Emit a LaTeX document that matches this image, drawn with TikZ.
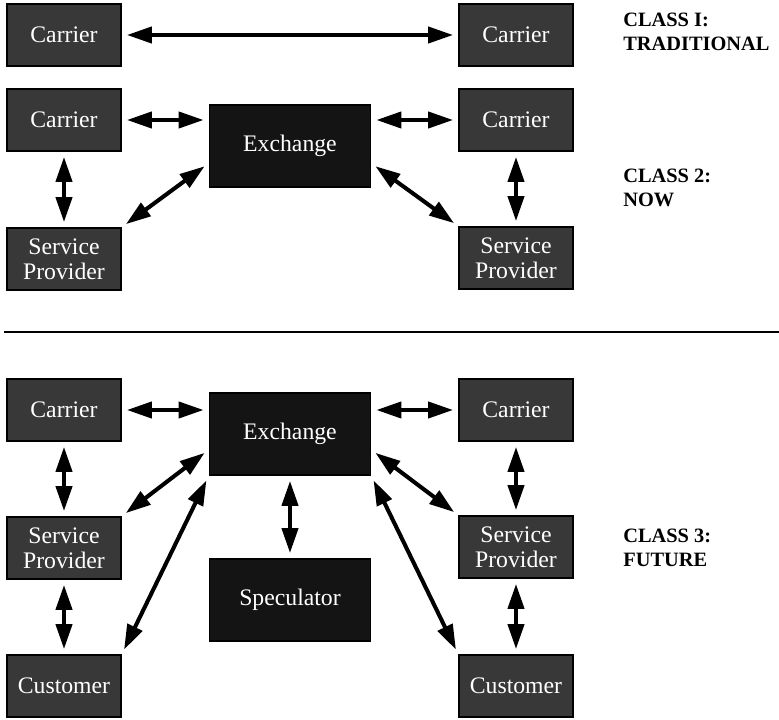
\documentclass[tikz,border=0pt]{standalone}
\usepackage{fontspec}
\setmainfont{Liberation Serif}
\usetikzlibrary{arrows.meta}

\begin{document}
\begin{tikzpicture}[
    x=0.02cm, y=-0.02cm,
    firmbox/.style={draw=black, line width=1pt, fill=black!78,
                    minimum width=2.28cm, minimum height=1.24cm,
                    inner sep=1pt, align=center, text=white,
                    font=\fontsize{13.5}{14}\selectfont},
    hubbox/.style={firmbox, fill=black!92,
                   minimum width=3.22cm, minimum height=1.64cm},
    link/.style={{Triangle[length=0.5cm,width=0.32cm]}-{Triangle[length=0.5cm,width=0.32cm]},
                 line width=2.3pt, shorten >=0.1cm, shorten <=0.1cm},
    classlabel/.style={anchor=west, align=left, inner sep=0pt,
                       font=\fontsize{11.6}{14}\selectfont\bfseries}
  ]
    \def\xl{64} \def\xm{290} \def\xr{516}
    \useasboundingbox (0,0) rectangle (779,720);

    % class 1
    \node[firmbox] (carA)  at (\xl,35)  {Carrier};
    \node[firmbox] (carB)  at (\xr,35)  {Carrier};

    % class 2
    \node[firmbox] (carC)  at (\xl,120) {Carrier};
    \node[hubbox]  (exchN) at (\xm,146) {Exchange};
    \node[firmbox] (carD)  at (\xr,120) {Carrier};
    \node[firmbox] (provC) at (\xl,259) {Service\\Provider};
    \node[firmbox] (provD) at (\xr,258) {Service\\Provider};

    % class 3
    \node[firmbox] (carE)  at (\xl,410) {Carrier};
    \node[hubbox]  (exchF) at (\xm,434) {Exchange};
    \node[firmbox] (carF)  at (\xr,410) {Carrier};
    \node[firmbox] (provE) at (\xl,548) {Service\\Provider};
    \node[firmbox] (provF) at (\xr,547) {Service\\Provider};
    \node[hubbox]  (spec)  at (\xm,600) {Speculator};
    \node[firmbox] (custE) at (\xl,686) {Customer};
    \node[firmbox] (custF) at (\xr,686) {Customer};

    \node[classlabel] (lblA) at (623,32)  {CLASS I:\\TRADITIONAL};
    \node[classlabel] (lblB) at (623,188) {CLASS 2:\\NOW};
    \node[classlabel] (lblC) at (623,548) {CLASS 3:\\FUTURE};

    \draw[line width=1.6pt] (4,332) -- (779,332);

    \draw[link] (carA) -- (carB);

    \draw[link] (carC.east) -- (carC.east -| exchN.west);
    \draw[link] (exchN.east |- carD.west) -- (carD.west);
    \draw[link] (carC) -- (provC);
    \draw[link] (carD) -- (provD);
    \draw[link] (provC.north east) -- (exchN.192);
    \draw[link] (exchN.348) -- (provD.north west);

    \draw[link] (carE.east) -- (carE.east -| exchF.west);
    \draw[link] (exchF.east |- carF.west) -- (carF.west);
    \foreach \a/\b in {carE/provE, provE/custE, carF/provF, provF/custF, exchF/spec}
      \draw[link] (\a) -- (\b);
    \draw[link] (provE.north east) -- (exchF.191);
    \draw[link] (exchF.349) -- (provF.north west);
    \draw[link] (custE.north east) -- (exchF.south west);
    \draw[link] (exchF.south east) -- (custF.north west);
  \end{tikzpicture}
\end{document}
